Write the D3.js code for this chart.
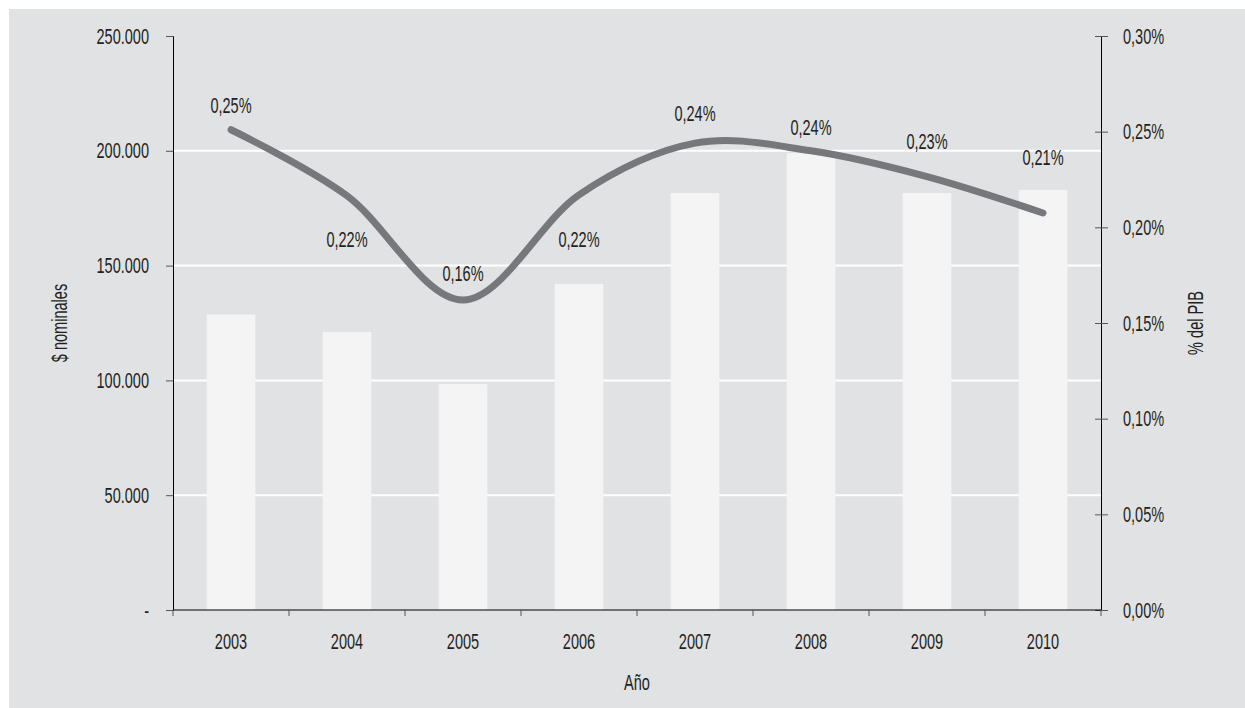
<!DOCTYPE html>
<html>
<head>
<meta charset="utf-8">
<script src="https://cdn.jsdelivr.net/npm/d3@7"></script>
<style>
  body { margin: 0; background: #fff; }
  svg text { font-family: "Liberation Sans", Arial, sans-serif; fill: #231f20; }
</style>
</head>
<body>
<div id="chart"></div>
<script>
// data
var years = ["2003", "2004", "2005", "2006", "2007", "2008", "2009", "2010"];
var nominal = [128700, 121100, 98400, 142000, 181600, 199000, 181600, 183000];
var pctPib = [0.251, 0.2165, 0.162, 0.217, 0.244, 0.240, 0.2265, 0.2075];
var pctLabels = ["0,25%", "0,22%", "0,16%", "0,22%", "0,24%", "0,24%", "0,23%", "0,21%"];
var leftTicks = [0, 50000, 100000, 150000, 200000, 250000];
var rightTicks = [0, 0.05, 0.10, 0.15, 0.20, 0.25, 0.30];

// label placement relative to the line point (px)
var labelDy = [-24, 44, -27, 44, -30, -24, -35, -56];

var W = 1245, H = 708;
var m = { left: 173, right: 1101, top: 36, bottom: 610 };
var FS = "22px";

var svg = d3.select("#chart").append("svg")
  .attr("width", W).attr("height", H);

// panel
svg.append("rect").attr("x", 9).attr("y", 9)
  .attr("width", W - 9).attr("height", H - 9)
  .attr("fill", "#e1e2e4");

var x = d3.scaleBand().domain(years).range([m.left, m.right]).paddingInner(0.58).paddingOuter(0.29);
var xb = d3.scaleBand().domain(years).range([m.left, m.right]);
var y = d3.scaleLinear().domain([0, 250000]).range([m.bottom, m.top]);
var y2 = d3.scaleLinear().domain([0, 0.30]).range([m.bottom, m.top]);

// gridlines
svg.append("g").selectAll("line")
  .data(leftTicks.filter(function(d) { return d > 0 && d < 250000; }))
  .join("line")
  .attr("x1", m.left).attr("x2", m.right)
  .attr("y1", function(d) { return y(d); }).attr("y2", function(d) { return y(d); })
  .attr("stroke", "#fff").attr("stroke-width", 2);

// bars
svg.append("g").selectAll("rect")
  .data(nominal)
  .join("rect")
  .attr("x", function(d, i) { return x(years[i]); })
  .attr("width", x.bandwidth())
  .attr("y", function(d) { return y(d); })
  .attr("height", function(d) { return y(0) - y(d); })
  .attr("fill", "#f4f4f4");

// left axis
var fmtLeft = function(d) {
  return d === 0 ? "-" : d3.format(",")(d).replace(/,/g, ".");
};
var gl = svg.append("g").attr("transform", "translate(" + m.left + ",0)")
  .call(d3.axisLeft(y).tickValues(leftTicks).tickSize(7).tickPadding(17).tickFormat(fmtLeft));

// right axis
var fmtRight = function(d) { return d3.format(".2f")(d).replace(".", ",") + "%"; };
var gr = svg.append("g").attr("transform", "translate(" + m.right + ",0)")
  .call(d3.axisRight(y2).tickValues(rightTicks).tickSize(7).tickPadding(15).tickFormat(fmtRight));
gr.selectAll(".tick line").attr("x1", -6);

// bottom axis
var gb = svg.append("g").attr("transform", "translate(0," + m.bottom + ")");
gb.append("line").attr("x1", m.left).attr("x2", m.right).attr("stroke", "#000");
gb.selectAll("line.tk")
  .data(years.concat(["end"]))
  .join("line").attr("class", "tk")
  .attr("x1", function(d, i) { return m.left + i * xb.bandwidth(); })
  .attr("x2", function(d, i) { return m.left + i * xb.bandwidth(); })
  .attr("y1", 0).attr("y2", 6).attr("stroke", "#555");
gb.selectAll("text")
  .data(years)
  .join("text")
  .attr("x", function(d) { return xb(d) + xb.bandwidth() / 2; })
  .attr("y", 31)
  .attr("dy", "0.35em")
  .attr("text-anchor", "middle")
  .style("font-size", FS)
  .text(function(d) { return d; });

[gl, gr].forEach(function(g) {
  g.select(".domain").attr("stroke", "#000");
  g.selectAll(".tick line").attr("stroke", "#555");
  g.selectAll(".tick text").style("font-size", FS).attr("fill", "#231f20");
  g.attr("font-family", null).attr("font-size", null);
});

// line
var line = d3.line()
  .x(function(d, i) { return xb(years[i]) + xb.bandwidth() / 2; })
  .y(function(d) { return y2(d); })
  .curve(d3.curveCardinal.tension(0));
svg.append("path")
  .datum(pctPib)
  .attr("d", line)
  .attr("fill", "none")
  .attr("stroke", "#77787b")
  .attr("stroke-width", 7)
  .attr("stroke-linecap", "round");

// labels
svg.append("g").selectAll("text")
  .data(pctPib)
  .join("text")
  .attr("x", function(d, i) { return xb(years[i]) + xb.bandwidth() / 2; })
  .attr("y", function(d, i) { return y2(d) + labelDy[i]; })
  .attr("dy", "0.35em")
  .attr("text-anchor", "middle")
  .style("font-size", FS)
  .text(function(d, i) { return pctLabels[i]; });

// axis titles
svg.append("text")
  .attr("transform", "translate(59,323) rotate(-90)")
  .attr("dy", "0.35em")
  .attr("text-anchor", "middle")
  .style("font-size", FS)
  .text("$ nominales");
svg.append("text")
  .attr("transform", "translate(1195,323) rotate(-90)")
  .attr("dy", "0.35em")
  .attr("text-anchor", "middle")
  .style("font-size", FS)
  .text("% del PIB");
svg.append("text")
  .attr("x", (m.left + m.right) / 2).attr("y", 682)
  .attr("dy", "0.35em")
  .attr("text-anchor", "middle")
  .style("font-size", FS)
  .text("Año");

// condensed look: squeeze every text horizontally
svg.selectAll("text").each(function() {
  var len = this.getComputedTextLength();
  d3.select(this).attr("textLength", len * 0.66).attr("lengthAdjust", "spacingAndGlyphs");
});
</script>
</body>
</html>
